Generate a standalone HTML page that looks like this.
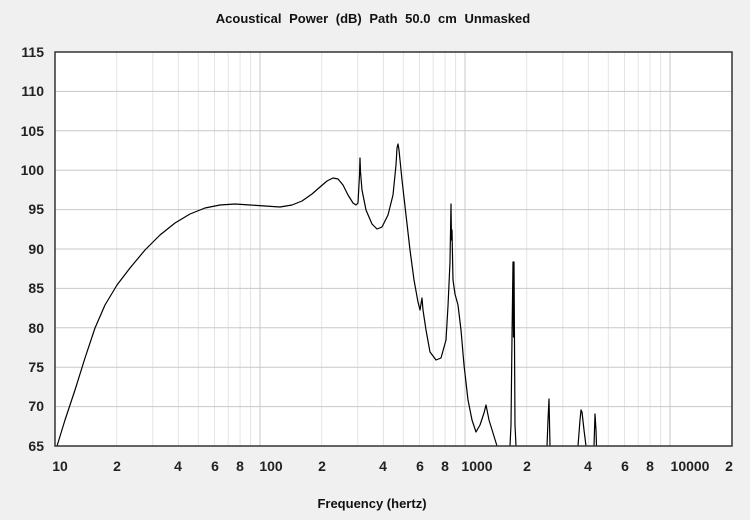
<!DOCTYPE html>
<html><head><style>
body{margin:0;background:#f0f0f0;}
svg{display:block;font-family:"Liberation Sans","DejaVu Sans",sans-serif;font-weight:bold;}
</style></head><body>
<svg width="750" height="520" viewBox="0 0 750 520">
<rect width="750" height="520" fill="#f0f0f0"/>
<rect x="55" y="52" width="677" height="394" fill="#fff"/>
<g stroke="#e4e4e4" stroke-width="1">
<line x1="116.7" x2="116.7" y1="52" y2="446"/><line x1="152.8" x2="152.8" y1="52" y2="446"/><line x1="178.4" x2="178.4" y1="52" y2="446"/><line x1="198.3" x2="198.3" y1="52" y2="446"/><line x1="214.5" x2="214.5" y1="52" y2="446"/><line x1="228.2" x2="228.2" y1="52" y2="446"/><line x1="240.1" x2="240.1" y1="52" y2="446"/><line x1="250.6" x2="250.6" y1="52" y2="446"/>
<line x1="321.7" x2="321.7" y1="52" y2="446"/><line x1="357.8" x2="357.8" y1="52" y2="446"/><line x1="383.4" x2="383.4" y1="52" y2="446"/><line x1="403.3" x2="403.3" y1="52" y2="446"/><line x1="419.5" x2="419.5" y1="52" y2="446"/><line x1="433.2" x2="433.2" y1="52" y2="446"/><line x1="445.1" x2="445.1" y1="52" y2="446"/><line x1="455.6" x2="455.6" y1="52" y2="446"/>
<line x1="526.7" x2="526.7" y1="52" y2="446"/><line x1="562.8" x2="562.8" y1="52" y2="446"/><line x1="588.4" x2="588.4" y1="52" y2="446"/><line x1="608.3" x2="608.3" y1="52" y2="446"/><line x1="624.5" x2="624.5" y1="52" y2="446"/><line x1="638.2" x2="638.2" y1="52" y2="446"/><line x1="650.1" x2="650.1" y1="52" y2="446"/><line x1="660.6" x2="660.6" y1="52" y2="446"/>
</g>
<g stroke="#c8c8c8" stroke-width="1">
<line x1="260" x2="260" y1="52" y2="446"/><line x1="465" x2="465" y1="52" y2="446"/><line x1="670" x2="670" y1="52" y2="446"/>
<line x1="55" x2="732" y1="91.4" y2="91.4"/><line x1="55" x2="732" y1="130.8" y2="130.8"/><line x1="55" x2="732" y1="170.2" y2="170.2"/><line x1="55" x2="732" y1="209.6" y2="209.6"/><line x1="55" x2="732" y1="249" y2="249"/><line x1="55" x2="732" y1="288.4" y2="288.4"/><line x1="55" x2="732" y1="327.8" y2="327.8"/><line x1="55" x2="732" y1="367.2" y2="367.2"/><line x1="55" x2="732" y1="406.6" y2="406.6"/>
</g>
<text x="373" y="23" font-size="13" text-anchor="middle" fill="#111" word-spacing="4">Acoustical Power (dB)  Path 50.0 cm  Unmasked</text>
<text x="372" y="508" font-size="13" text-anchor="middle" fill="#111">Frequency (hertz)</text>
<g font-size="14" fill="#222" text-anchor="end">
<text x="44" y="57">115</text><text x="44" y="96">110</text><text x="44" y="136">105</text><text x="44" y="175">100</text>
<text x="44" y="214">95</text><text x="44" y="254">90</text><text x="44" y="293">85</text><text x="44" y="333">80</text>
<text x="44" y="372">75</text><text x="44" y="411">70</text><text x="44" y="451">65</text>
</g>
<g font-size="14" fill="#222" text-anchor="middle">
<text x="60" y="471">10</text><text x="117" y="471">2</text><text x="178" y="471">4</text><text x="215" y="471">6</text><text x="240" y="471">8</text><text x="271" y="471">100</text>
<text x="322" y="471">2</text><text x="383" y="471">4</text><text x="420" y="471">6</text><text x="445" y="471">8</text><text x="477" y="471">1000</text>
<text x="527" y="471">2</text><text x="588" y="471">4</text><text x="625" y="471">6</text><text x="650" y="471">8</text><text x="690" y="471">10000</text><text x="729" y="471">2</text>
</g>
<g fill="none" stroke="#000" stroke-width="1.2" stroke-linejoin="round">
<polyline points="57,446 65,420 75,390 85,358 95,328 105,305 117,285 130,268 145,250 160,235 175,223 190,214 205,208 220,205 235,204 250,205 265,206 280,207 292,205 302,201 312,194 320,187 327,181 333,178 338,179 343,185 348,195 353,203 356,205 358,203 359.5,175 360,158 360.5,172 362,190 366,210 372,224 377,229 382,227 388,215 393,195 396,165 397,148 398,144 399,150 402,180 406,215 410,250 414,280 418,302 420,310 422,298 423,310 426,330 430,352 436,360 441,358 446,340 448,306 450,262 451,204 451.5,240 452,230 453,280 455,294 458,305 461,330 464,365 468,400 472,420 476,432 480,425 484,413 486,405 489,420 497,446"/>
<polyline points="510,446 511,425 512,337 513,262 513.5,337 514,262 515,425 516,446"/>
<polyline points="547,446 548,420 549,399 550,446"/>
<polyline points="578,446 580,420 581,410 582,412 584,430 586,446"/>
<polyline points="594,446 594.5,430 595,414 596,430 596.5,446"/>
</g>
<rect x="55" y="52" width="677" height="394" fill="none" stroke="#333" stroke-width="1.5"/>
</svg>
</body></html>
